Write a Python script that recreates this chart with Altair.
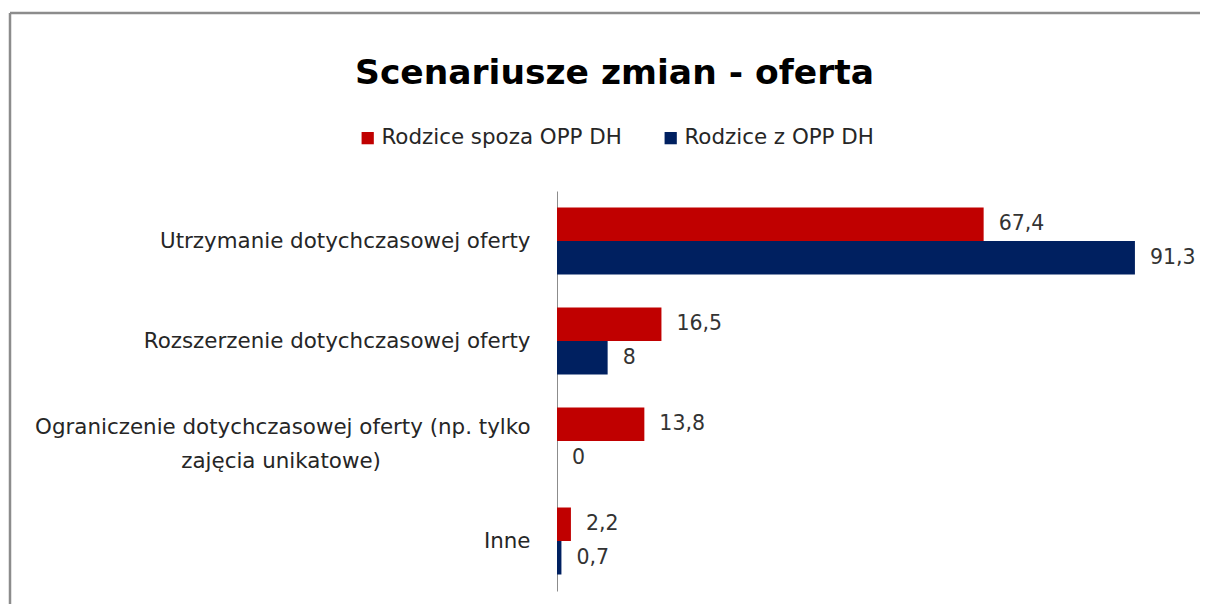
import altair as alt
import pandas as pd

categories = [
    "Utrzymanie dotychczasowej oferty",
    "Rozszerzenie  dotychczasowej oferty",
    "Ograniczenie dotychczasowej oferty (np. tylko|zajęcia unikatowe)" + "\u00a0" * 22 + "\u200b",
    "Inne",
]
series = ["Rodzice spoza OPP DH", "Rodzice z OPP DH"]
values_spoza = [67.4, 16.5, 13.8, 2.2]
values_z = [91.3, 8, 0, 0.7]
colors = ["#C00000", "#002060"]

rows = []
for c, a, b in zip(categories, values_spoza, values_z):
    rows.append({"kat": c, "grupa": series[0], "wartosc": a})
    rows.append({"kat": c, "grupa": series[1], "wartosc": b})
df = pd.DataFrame(rows)

FONT = "DejaVu Sans"

base = alt.Chart(df).encode(
    y=alt.Y("kat:N", sort=categories, title=None,
            scale=alt.Scale(paddingInner=0.33, paddingOuter=0.165),
            axis=alt.Axis(labelExpr="split(datum.label, '|')", labelFont=FONT,
                          labelFontSize=21.4, labelColor="#262626", labelPadding=27,
                          labelLineHeight=34, ticks=False, domainColor="#8c8c8c",
                          domainWidth=1, labelLimit=600,
                          labelOffset={"condition": {"test": "indexof(datum.label, '|') >= 0",
                                                     "value": -13}, "value": 1})),
    yOffset=alt.YOffset("grupa:N", sort=series, scale=alt.Scale(paddingInner=0, paddingOuter=0)),
)

bars = base.mark_bar().encode(
    x=alt.X("wartosc:Q", scale=alt.Scale(domain=[0, 100]), axis=None),
    color=alt.Color("grupa:N", sort=series,
                    scale=alt.Scale(domain=series, range=colors),
                    legend=alt.Legend(title=None, orient="none", direction="horizontal",
                                      legendX=-200, legendY=-64, symbolType="square",
                                      symbolSize=150, symbolStrokeWidth=0,
                                      labelFont=FONT, labelFontSize=21.4, labelLimit=400,
                                      labelColor="#262626", columnPadding=38,
                                      labelOffset=3)),
)

labels = base.mark_text(align="left", baseline="middle", dx=15, font=FONT,
                        fontSize=20.5, color="#333333").encode(
    x=alt.X("wartosc:Q", scale=alt.Scale(domain=[0, 100])),
    text=alt.Text("lab:N"),
).transform_calculate(lab="replace(toString(datum.wartosc), '.', ',')")

frame = alt.Chart(alt.Data(values=[{}]))
top_rule = frame.mark_rule(color="#8c8c8c", strokeWidth=2.5).encode(
    x=alt.value(-547), x2=alt.value(720), y=alt.value(-178))
left_rule = frame.mark_rule(color="#8c8c8c", strokeWidth=2.5).encode(
    x=alt.value(-547), y=alt.value(-178), y2=alt.value(430))

chart = alt.layer(bars, labels, top_rule, left_rule).properties(
    width=633, height=400,
    autosize=alt.AutoSizeParams(type="none"),
    padding={"left": 549, "top": 183, "right": 10, "bottom": 13},
    title=alt.TitleParams("Scenariusze zmian - oferta", anchor="middle", dx=-259,
                          font=FONT, fontSize=34.5, fontWeight="bold", color="#000000",
                          offset=-80),
).configure_view(stroke=None).configure_axis(grid=False)

chart.save("out.html", embed_options={"renderer": "svg", "actions": False})
